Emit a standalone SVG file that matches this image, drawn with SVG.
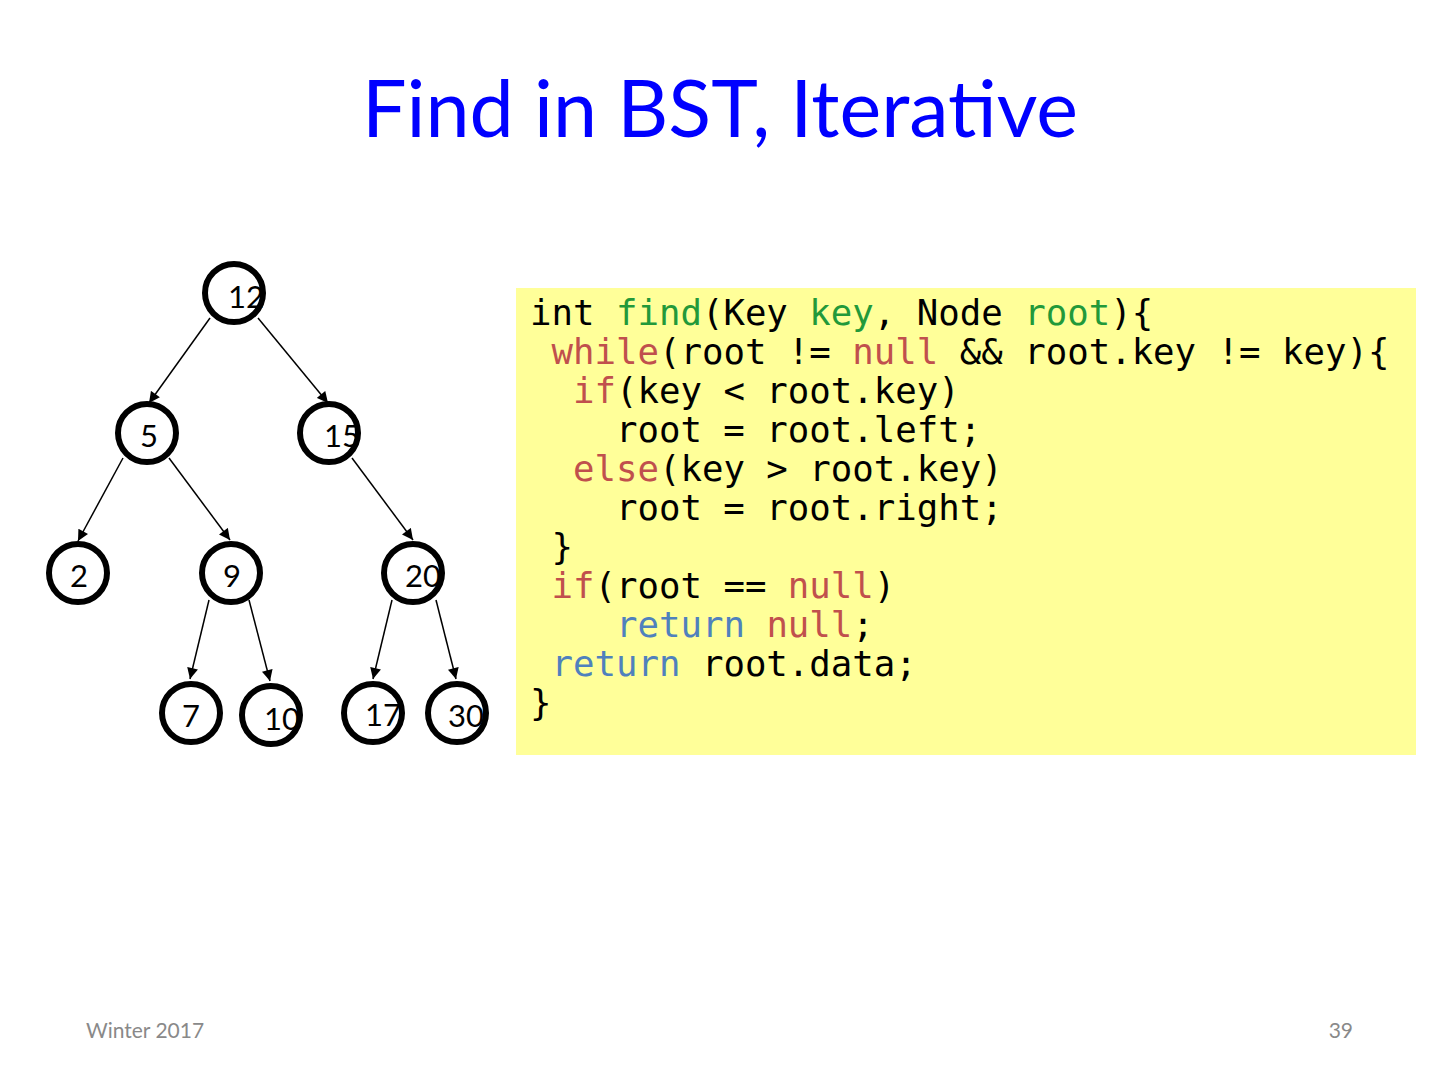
<svg xmlns="http://www.w3.org/2000/svg" width="1440" height="1080" viewBox="0 0 1440 1080">
<style>
.title{font-family:Lato,"Open Sans",sans-serif;font-size:79px;fill:#0000ff}
.node circle{fill:#ffffff;stroke:#000000;stroke-width:6}
.node text{font-family:Lato,"Liberation Sans",sans-serif;font-size:31px;fill:#000000}
.edge{stroke:#000000;stroke-width:1.5;fill:none;marker-end:url(#arr)}
.code{font-family:"DejaVu Sans Mono","Liberation Mono",monospace;font-size:35.7px;fill:#000000;white-space:pre}
.k{fill:#c0504d}
.g{fill:#22993a}
.b{fill:#4f81bd}
.foot{font-family:Lato,"Liberation Sans",sans-serif;font-size:21px;fill:#898989}
</style>
<defs>
<marker id="arr" viewBox="0 0 10 10" refX="10" refY="5" markerWidth="12" markerHeight="11" markerUnits="userSpaceOnUse" orient="auto">
<path d="M0,0 L10,5 L0,10 z" fill="#000000"/>
</marker>
</defs>
<rect width="1440" height="1080" fill="#ffffff"/>
<text class="title" x="720" y="137" text-anchor="middle">Find in BST, Iterative</text>

<g id="connectors">
<line class="edge" x1="210" y1="318" x2="149" y2="403"/>
<line class="edge" x1="258" y1="318" x2="328" y2="403"/>
<line class="edge" x1="123" y1="458" x2="78" y2="541"/>
<line class="edge" x1="169" y1="458" x2="230" y2="540"/>
<line class="edge" x1="352" y1="458" x2="413" y2="540"/>
<line class="edge" x1="209" y1="600" x2="190" y2="679"/>
<line class="edge" x1="249" y1="600" x2="270" y2="681"/>
<line class="edge" x1="392" y1="600" x2="373" y2="679"/>
<line class="edge" x1="436" y1="600" x2="456" y2="679"/>
</g>

<g id="n12" class="node"><circle cx="234" cy="293" r="29"/><text x="228" y="308">12</text></g>
<g id="n5" class="node"><circle cx="147" cy="433" r="29"/><text x="140" y="447">5</text></g>
<g id="n15" class="node"><circle cx="329" cy="433" r="29"/><text x="324" y="447">15</text></g>
<g id="n2" class="node"><circle cx="78" cy="573" r="29"/><text x="70" y="587">2</text></g>
<g id="n9" class="node"><circle cx="231" cy="573" r="29"/><text x="223" y="587">9</text></g>
<g id="n20" class="node"><circle cx="413" cy="573" r="29"/><text x="405" y="587">20</text></g>
<g id="n7" class="node"><circle cx="191" cy="713" r="29"/><text x="182" y="727">7</text></g>
<g id="n10" class="node"><circle cx="271" cy="715" r="29"/><text x="264" y="730">10</text></g>
<g id="n17" class="node"><circle cx="373" cy="713" r="29"/><text x="365" y="726">17</text></g>
<g id="n30" class="node"><circle cx="457" cy="713" r="29"/><text x="448" y="727">30</text></g>

<g id="code">
<rect x="516" y="288" width="900" height="467" fill="#ffff99"/>
<text class="code" x="530" y="325">int <tspan class="g">find</tspan>(Key <tspan class="g">key</tspan>, Node <tspan class="g">root</tspan>){</text>
<text class="code" x="530" y="364"> <tspan class="k">while</tspan>(root != <tspan class="k">null</tspan> &amp;&amp; root.key != key){</text>
<text class="code" x="530" y="403">  <tspan class="k">if</tspan>(key &lt; root.key)</text>
<text class="code" x="530" y="442">    root = root.left;</text>
<text class="code" x="530" y="481">  <tspan class="k">else</tspan>(key &gt; root.key)</text>
<text class="code" x="530" y="520">    root = root.right;</text>
<text class="code" x="530" y="559"> }</text>
<text class="code" x="530" y="598"> <tspan class="k">if</tspan>(root == <tspan class="k">null</tspan>)</text>
<text class="code" x="530" y="637">    <tspan class="b">return</tspan> <tspan class="k">null</tspan>;</text>
<text class="code" x="530" y="676"> <tspan class="b">return</tspan> root.data;</text>
<text class="code" x="530" y="715">}</text>
</g>

<text class="foot" x="86" y="1038">Winter 2017</text>
<text class="foot" x="1353" y="1038" text-anchor="end">39</text>
</svg>
